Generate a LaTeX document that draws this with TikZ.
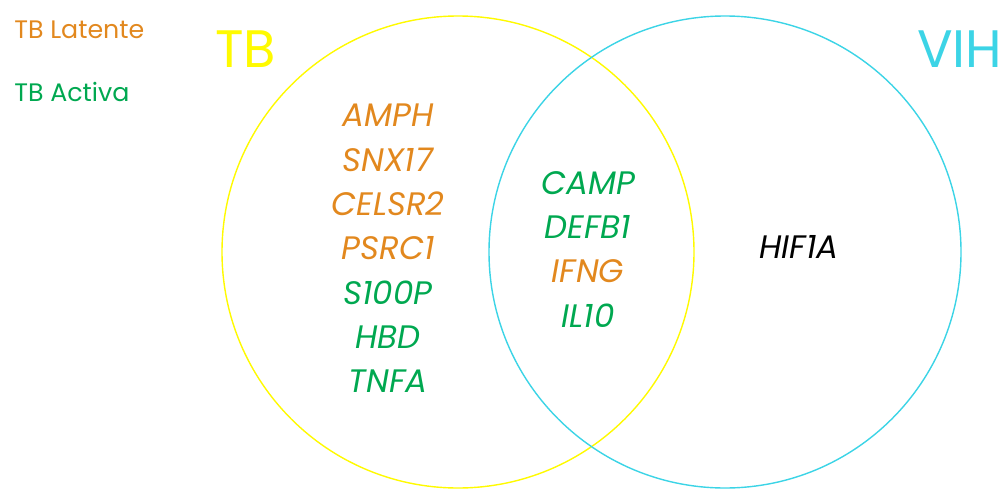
\documentclass[tikz,border=0pt]{standalone}
\usepackage{fontspec}
\setmainfont{Poppins}
\usepackage{tikz}
\definecolor{latente}{RGB}{226,136,30}
\definecolor{activa}{RGB}{0,168,80}
\definecolor{tbyellow}{RGB}{255,250,0}
\definecolor{vihcyan}{RGB}{60,212,230}

\begin{document}
\begin{tikzpicture}[x=0.02cm, y=-0.02cm,
		gene/.style={font=\fontsize{18.5}{19}\selectfont\itshape, inner sep=0pt},
		legend/.style={font=\fontsize{14.4}{15}\selectfont, anchor=base west, inner sep=0pt},
		title/.style={font=\fontsize{30}{31}\selectfont, anchor=base west, inner sep=0pt}]
		\useasboundingbox (0,0) rectangle (1003,490);
		% ---- circles ----
		\draw[tbyellow, line width=0.8pt] (458,252) circle (236);
		\draw[vihcyan, line width=0.8pt] (725,252) circle (236);
		% ---- legend and titles ----
		\node[legend, text=latente] (lat) at (14,38) {TB Latente};
		\node[legend, text=activa] (act) at (14,101) {TB Activa};
		\node[title, text=tbyellow] (tb) at (215,67) {TB};
		\node[title, text=vihcyan] (vih) at (917,67) {VIH};
		% ---- TB only ----
		\foreach \g/\c [count=\i] in {AMPH/latente, SNX17/latente, CELSR2/latente, PSRC1/latente, S100P/activa, HBD/activa, TNFA/activa}
			\node[gene, text=\c] (tb\i) at (388,{115+44.4*(\i-1)}) {\g};
		% ---- TB and VIH ----
		\foreach \g/\c [count=\i] in {CAMP/activa, DEFB1/activa, IFNG/latente, IL10/activa}
			\node[gene, text=\c] (both\i) at (588,{183+44.3*(\i-1)}) {\g};
		% ---- VIH only ----
		\node[gene, text=black] (hif) at (799,247) {HIF1A};
	\end{tikzpicture}
\end{document}
